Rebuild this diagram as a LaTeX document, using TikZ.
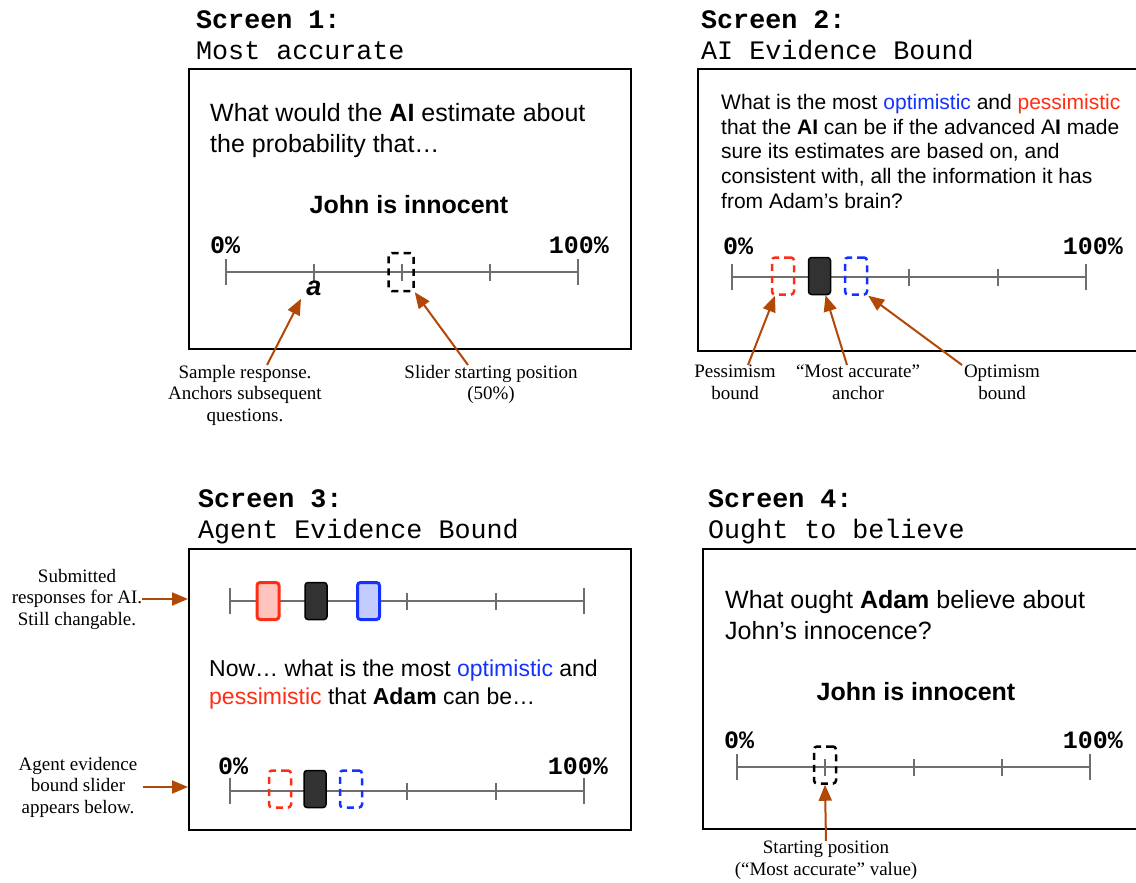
\documentclass[tikz,border=0pt]{standalone}
\usepackage{fontspec}
\setmainfont{Liberation Serif}
\newfontfamily\helv{Liberation Sans}
\newfontfamily\cour{Liberation Mono}
\usetikzlibrary{arrows.meta}

\definecolor{arrorange}{RGB}{178,72,8}
\definecolor{optblue}{RGB}{20,50,255}
\definecolor{pesred}{RGB}{255,45,20}
\definecolor{railgray}{RGB}{110,110,110}
\definecolor{knobgray}{RGB}{50,50,50}

\begin{document}
\begin{tikzpicture}[x=1pt,y=-1pt,>={Triangle[length=16pt,width=13pt]},
    screen/.style={draw,line width=2pt,inner sep=0pt,anchor=north west},
    title/.style={font=\fontsize{26.7}{31}\cour,anchor=base west,inner sep=0pt},
    body/.style={font=\fontsize{25}{31}\helv,anchor=north west,inner sep=0pt,align=left},
    prop/.style={font=\fontsize{25}{31}\helv\bfseries,anchor=base,inner sep=0pt},
    pct/.style={font=\fontsize{25}{25}\cour\bfseries,inner sep=0pt},
    note/.style={font=\fontsize{19}{21.5}\selectfont,align=center,inner sep=0pt},
    arr/.style={->,arrorange,line width=2pt},
    rail/.style={railgray,line width=2pt},
    knob/.style={rounded corners=3pt,minimum width=22pt,minimum height=37pt,inner sep=0pt,line width=2.5pt},
    dashknob/.style={knob,draw,dash pattern=on 7pt off 5pt},
    solidknob/.style={knob,draw=black,fill=knobgray,line width=1.5pt}]

    \useasboundingbox (0,0) rectangle (1136,883);

    % 四个屏幕
    \node[screen,minimum width=442pt,minimum height=280pt] (scr1) at (188,68) {};
    \node[screen,minimum width=450pt,minimum height=282pt] (scr2) at (697,68) {};
    \node[screen,minimum width=442pt,minimum height=281pt] (scr3) at (188,548) {};
    \node[screen,minimum width=445pt,minimum height=280pt] (scr4) at (702,548) {};

    % 标题
    \node[title] (t1a) at (196,29) {\bfseries Screen 1:};
    \node[title] (t1b) at (196,60) {Most accurate};
    \node[title] (t2a) at (701,29) {\bfseries Screen 2:};
    \node[title] (t2b) at (701,60) {AI Evidence Bound};
    \node[title] (t3a) at (198,507) {\bfseries Screen 3:};
    \node[title] (t3b) at (198,538) {Agent Evidence Bound};
    \node[title] (t4a) at (708,507) {\bfseries Screen 4:};
    \node[title] (t4b) at (708,538) {Ought to believe};

    % 问题文字
    \node[body] (q1) at (210,103) {What would the \textbf{AI} estimate about\\the probability that…};
    \node[body,font=\fontsize{21}{24.7}\helv] (q2) at (721,94)
        {What is the most \textcolor{optblue}{optimistic} and \textcolor{pesred}{pessimistic}\\
         that the \textbf{AI} can be if the advanced A\textbf{I} made\\
         sure its estimates are based on, and\\
         consistent with, all the information it has\\
         from Adam’s brain?};
    \node[body,font=\fontsize{23}{28}\helv] (q3) at (209,660)
        {Now… what is the most \textcolor{optblue}{optimistic} and\\
         \textcolor{pesred}{pessimistic} that \textbf{Adam} can be…};
    \node[body] (q4) at (725,590) {What ought \textbf{Adam} believe about\\John’s innocence?};
    \node[prop] (p1) at (409,213) {John is innocent};
    \node[prop] (p4) at (916,700) {John is innocent};

    % 滑条
    \foreach \xa/\xb/\y in {226/578/272, 732/1086/277, 230/584/601, 230/584/791, 737/1090/767} {
            \draw[rail] (\xa,\y) -- (\xb,\y);
            \foreach \k in {0,4} {
                    \draw[rail] ({\xa+\k*(\xb-\xa)/4},{\y-13}) -- ++(0,26);
                }
            \foreach \k in {1,2,3} {
                    \draw[rail] ({\xa+\k*(\xb-\xa)/4},{\y-8.5}) -- ++(0,17);
                }
        }

    % 百分比标签
    \node[pct,anchor=base west] (z1) at (210,253) {0\%};
    \node[pct,anchor=base east] (f1) at (609,253) {100\%};
    \node[pct,anchor=base west] (z2) at (723,254) {0\%};
    \node[pct,anchor=base east] (f2) at (1123,254) {100\%};
    \node[pct,anchor=base west] (z3) at (218,774) {0\%};
    \node[pct,anchor=base east] (f3) at (608,774) {100\%};
    \node[pct,anchor=base west] (z4) at (724,748) {0\%};
    \node[pct,anchor=base east] (f4) at (1123,748) {100\%};

    % 滑块
    \node[dashknob,black,minimum width=25pt,minimum height=38pt] (h1) at (401,272) {};
    \node[font=\fontsize{27}{27}\helv\bfseries\itshape,anchor=base] (aval) at (314,295) {a};

    \node[dashknob,pesred] (r2) at (783,276) {};
    \node[solidknob] (k2) at (819.5,276) {};
    \node[dashknob,optblue] (b2) at (856,276) {};

    \node[knob,draw=pesred,fill=pesred!28,line width=3pt] (r3a) at (268,601) {};
    \node[solidknob] (k3a) at (316,601) {};
    \node[knob,draw=optblue,fill=optblue!25,line width=3pt] (b3a) at (368.5,601) {};

    \node[dashknob,pesred] (r3b) at (280,789) {};
    \node[solidknob] (k3b) at (315,789) {};
    \node[dashknob,optblue] (b3b) at (351,789) {};

    \node[dashknob,black] (h4) at (825,765) {};

    % 注释
    \node[note,anchor=north] (n1a) at (245,365) {Sample response.\\Anchors subsequent\\questions.};
    \node[note,anchor=north] (n1b) at (491,365) {Slider starting position\\(50\%)};
    \node[note,anchor=north] (n2a) at (735,365) {Pessimism\\bound};
    \node[note,anchor=north] (n2b) at (858,365) {“Most accurate”\\anchor};
    \node[note,anchor=north] (n2c) at (1002,365) {Optimism\\bound};
    \node[note] (n3a) at (77,599) {Submitted\\responses for AI.\\Still changable.};
    \node[note,inner xsep=5pt] (n3b) at (78,787) {Agent evidence\\bound slider\\appears below.};
    \node[note,anchor=north] (n4) at (826,841) {Starting position\\(“Most accurate” value)};

    % 箭头
    \draw[arr] ([xshift=22pt]n1a.north) -- ([xshift=-13pt]aval.south);
    \draw[arr] ([xshift=-23pt]n1b.north) -- (h1.south east);
    \draw[arr] ([xshift=13pt]n2a.north) -- ([xshift=-8pt]r2.south);
    \draw[arr] ([xshift=-11pt]n2b.north) -- ([xshift=6pt]k2.south);
    \draw[arr] ([xshift=-40pt]n2c.north) -- (b2.south east);
    \draw[arr] (n3a.east) -- (n3a.east -| scr3.west);
    \draw[arr] (n3b.east) -- (n3b.east -| scr3.west);
    \draw[arr] (n4.north) -- (h4.south);

\end{tikzpicture}
\end{document}
